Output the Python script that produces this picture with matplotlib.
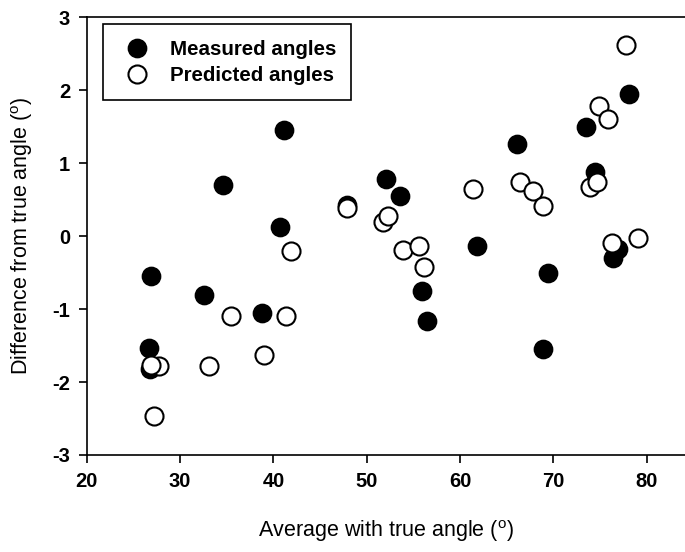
import matplotlib
matplotlib.use('Agg')
import matplotlib.pyplot as plt

plt.rcParams['font.family'] = ['Liberation Sans', 'DejaVu Sans']
plt.rcParams['axes.unicode_minus'] = False
plt.rcParams['mathtext.fontset'] = 'custom'
plt.rcParams['mathtext.rm'] = 'Liberation Sans'

# measured angles (filled)
meas_x = [41.1, 34.6, 40.7, 26.9, 32.6, 38.8, 26.7, 26.8, 47.9,
          52.1, 53.6, 55.9, 56.5, 61.8, 66.1, 69.4, 68.9, 73.5,
          74.5, 78.1, 76.4, 76.9]
meas_y = [1.46, 0.70, 0.12, -0.55, -0.80, -1.05, -1.53, -1.82, 0.43,
          0.79, 0.55, -0.75, -1.16, -0.14, 1.26, -0.51, -1.55, 1.49,
          0.88, 1.95, -0.30, -0.18]

# predicted angles (open)
pred_x = [27.7, 26.9, 27.2, 33.1, 39.0, 35.5, 41.4, 41.9, 47.9,
          51.7, 52.3, 53.9, 55.6, 56.1, 61.4, 66.4, 67.8, 68.9,
          73.9, 74.7, 74.9, 75.8, 77.8, 76.3, 79.1]
pred_y = [-1.78, -1.76, -2.46, -1.78, -1.63, -1.09, -1.09, -0.20, 0.38,
          0.20, 0.27, -0.19, -0.13, -0.42, 0.64, 0.74, 0.62, 0.42,
          0.68, 0.74, 1.78, 1.61, 2.62, -0.09, -0.02]

fig = plt.figure(figsize=(6.85, 5.52), dpi=100)
ax = fig.add_axes([86.7 / 685, 1 - 455 / 552, 598.3 / 685, 437.7 / 552])

ax.plot(meas_x, meas_y, 'o', ms=13, mfc='black', mec='black', mew=1.2,
        label='Measured angles', zorder=3)
ax.plot(pred_x, pred_y, 'o', ms=13, mfc='white', mec='black', mew=1.5,
        label='Predicted angles', zorder=4)

ax.set_xlim(20, 84.1)
ax.set_ylim(-3, 3)
ax.set_xticks([20, 30, 40, 50, 60, 70, 80])
ax.set_yticks([-3, -2, -1, 0, 1, 2, 3])

for s in ['left', 'bottom', 'top']:
    ax.spines[s].set_linewidth(1.2)
ax.spines['right'].set_visible(False)
ax.tick_params(direction='out', length=6, width=1.2, labelsize=14.5, pad=6)
for lab in ax.get_xticklabels() + ax.get_yticklabels():
    lab.set_fontweight('bold')

ax.set_xlabel(r'Average with true angle ($^\mathregular{o}$)', fontsize=15.5, labelpad=20)
ax.set_ylabel(r'Difference from true angle ($^\mathregular{o}$)', fontsize=15.5, labelpad=12)

leg = ax.legend(loc='upper left', bbox_to_anchor=(16 / 598.3, 1 - 7 / 437.7),
                borderaxespad=0, fancybox=False, edgecolor='black', framealpha=1,
                prop={'size': 14.8, 'weight': 'bold'}, borderpad=0.75,
                labelspacing=0.35, handletextpad=0.7, handlelength=1.8)
leg.get_frame().set_linewidth(1.2)

fig.savefig('out.png', dpi=100)
